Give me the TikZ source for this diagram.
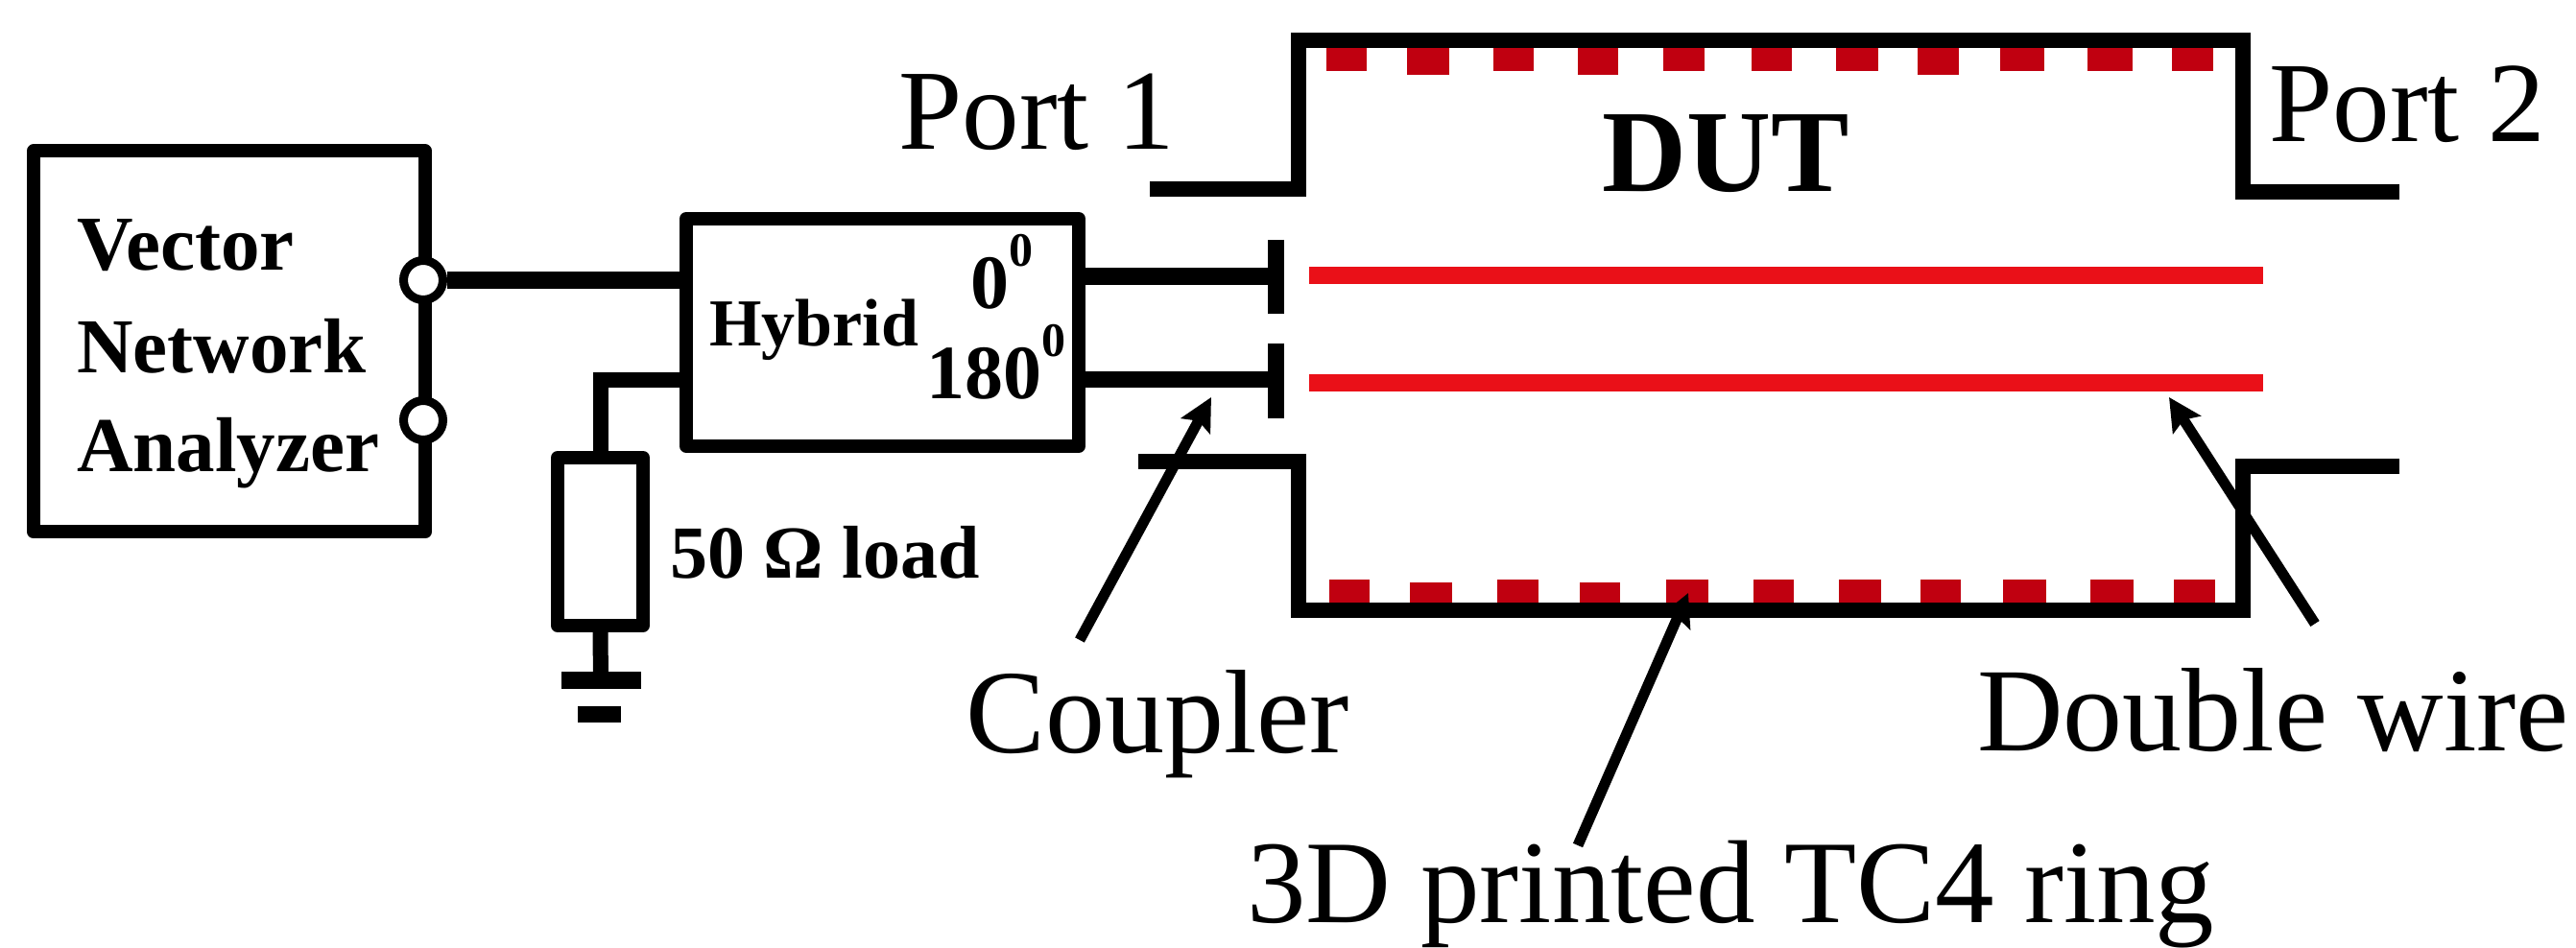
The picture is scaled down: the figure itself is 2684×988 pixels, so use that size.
\documentclass[tikz,border=0pt]{standalone}
\usepackage{fontspec}
\setmainfont{Liberation Serif}
\usetikzlibrary{arrows.meta,calc}
\newcommand{\fsz}[1]{\fontsize{#1}{#1}\selectfont}
\tikzset{
  x=0.5pt,y=-0.5pt,
  wire/.style={line width=8pt,line cap=butt,line join=miter},
  boxed/.style={draw,line width=7pt,fill=white,inner sep=0pt,rectangle,line join=round},
  port/.style={draw,circle,line width=4.5pt,fill=white,inner sep=0pt,minimum size=20.5pt},
  redwire/.style={line width=9pt,draw=wirered},
  pointer/.style={line width=5.5pt,-{Stealth[length=17pt,width=17pt,inset=3pt]}},
  big/.style={font=\fsz{62},anchor=base west,inner sep=0pt},
  midbold/.style={font=\fsz{40.5}\bfseries,anchor=base west,inner sep=0pt},
}
\definecolor{wirered}{HTML}{EA1018}
\definecolor{ringred}{HTML}{C00010}
\begin{document}
\begin{tikzpicture}
\useasboundingbox (0,0) rectangle (2684,988);
\fill[white] (0,0) rectangle (2684,988);
% VNA
\node[boxed,minimum width=204pt,minimum height=198.5pt] (vna) at (239,356) {};
\node[midbold] (t1) at (80,282) {Vector};
\node[midbold] (t2) at (80,389) {Network};
\node[midbold] (t3) at (80,492) {Analyzer};
% Hybrid
\node[boxed,minimum width=204.5pt,minimum height=118.5pt] (hyb) at (919.5,346.5) {};
\node[font=\fsz{35}\bfseries,anchor=base west,inner sep=0pt] (thyb) at (739,361) {Hybrid};
\node[font=\fsz{40}\bfseries,anchor=base west,inner sep=0pt] (t0) at (1011,322) {0\raisebox{22pt}{\fsz{25}0}};
\node[font=\fsz{40}\bfseries,anchor=base west,inner sep=0pt] (t180) at (965,416) {180\raisebox{22pt}{\fsz{25}0}};
% Ports on the analyzer
\node[port] (p1) at (441,292) {};
\node[port] (p2) at (441,438) {};
% Load and ground
\node[boxed,minimum width=44.5pt,minimum height=87.5pt] (load) at (625.5,564.5) {};
\node[font=\fsz{39}\bfseries,anchor=base west,inner sep=0pt] (tload) at (698,603) {50 Ω load};
\coordinate (g1) at (626,709);
\draw[line width=9pt] (p1.east) -- (p1.east -| hyb.west);
\draw[line width=8pt,line join=miter] (hyb.west |- 0,396) -| (626,477);
\draw[line width=8pt] (load.south) -- (g1);
\fill (585,700) rectangle (668,718);
\fill (602,736) rectangle (647,753);
% DUT body
\coordinate (a1) at (1198,197);
\coordinate (a2) at (1353,197);
\coordinate (a3) at (1353,42);
\coordinate (a4) at (2337,42);
\coordinate (a5) at (2337,200);
\coordinate (a6) at (2500,200);
\coordinate (b1) at (1186,481);
\coordinate (b2) at (1353,481);
\coordinate (b3) at (1353,636);
\coordinate (b4) at (2337,636);
\coordinate (b5) at (2337,486);
\coordinate (b6) at (2500,486);
\draw[wire] (a1) -- (a2) -- (a3) -- (a4) -- (a5) -- (a6);
\draw[wire] (b1) -- (b2) -- (b3) -- (b4) -- (b5) -- (b6);
% Red ring teeth
\foreach \l/\r/\b in {1382/1424/74,1466/1510/78,1556/1598/74,1644/1686/78,1733/1776/74,1825/1867/74,1913/1957/74,1998/2041/78,2084/2130/74,2175/2222/74,2263/2306/74}
  \fill[ringred] (\l,50) rectangle (\r,\b);
\foreach \l/\r/\t in {1385/1427/604,1469/1513/607,1560/1603/604,1646/1688/607,1736/1780/604,1827/1869/604,1916/1960/604,2001/2043/604,2087/2132/604,2178/2223/604,2265/2308/604}
  \fill[ringred] (\l,\t) rectangle (\r,628);
% Double wire
\coordinate (w1a) at (1364,287);
\coordinate (w1b) at (2358,287);
\coordinate (w2a) at (1364,399);
\coordinate (w2b) at (2358,399);
\draw[redwire] (w1a) -- (w1b);
\draw[redwire] (w2a) -- (w2b);
% Coupler
\coordinate (c1t) at (1329.5,250);
\coordinate (c1b) at (1329.5,327);
\coordinate (c2t) at (1329.5,358);
\coordinate (c2b) at (1329.5,436);
\draw[line width=8.5pt] (c1t) -- (c1b);
\draw[line width=8.5pt] (c2t) -- (c2b);
\draw[line width=9pt] (hyb.east |- 0,288) -- (1329,288);
\draw[line width=8.5pt] (hyb.east |- 0,396) -- (1329,396);
% Labels
\node[big,font=\fsz{59.5}] (port1) at (936,156) {Port 1};
\node[big,font=\fsz{59.5}] (port2) at (2364,148) {Port 2};
\node[font=\fsz{61}\bfseries,anchor=base west,inner sep=0pt] (dut) at (1669,200) {DUT};
\node[big] (coup) at (1006,784) {Coupler};
\node[big] (dw) at (2060,783) {Double wire};
\node[big,font=\fsz{61.5}] (ring) at (1299,961) {3D printed TC4 ring};
% Pointers
\coordinate (ct) at (1125,667);
\coordinate (ch) at (1262,414);
\coordinate (dt) at (2412,650);
\coordinate (dh) at (2260,414);
\coordinate (rt) at (1644,881);
\coordinate (rh) at (1759,618);
\draw[pointer] (ct) -- (ch);
\draw[pointer] (dt) -- (dh);
\draw[pointer] (rt) -- (rh);
\end{tikzpicture}
\end{document}
